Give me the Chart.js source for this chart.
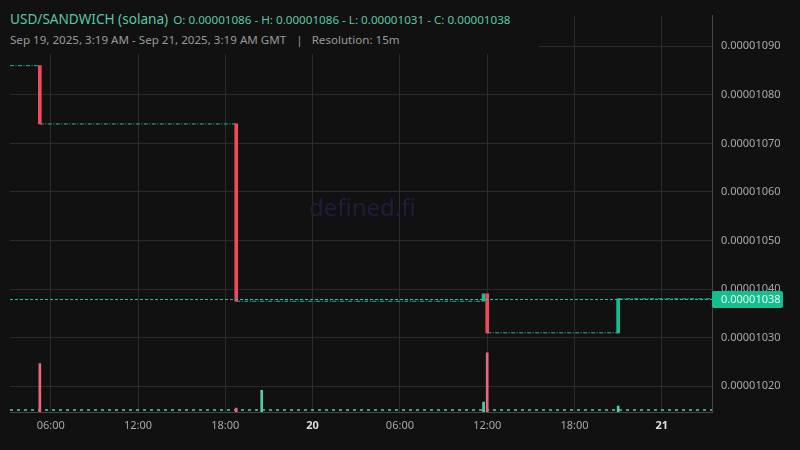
<!DOCTYPE html>
<html>
<head>
    <meta charset="utf-8">
    <title>USD/SANDWICH (solana)</title>
    <script src="https://cdn.jsdelivr.net/npm/chart.js"></script>
    <style>
        body {
            margin: 0;
            background: #111111;
            font-family: "Noto Sans", sans-serif;
        }

        .wrap {
            position: relative;
            width: 800px;
            height: 450px;
        }

        .header {
            position: absolute;
            left: 0;
            top: 0;
            width: 539px;
            height: 54px;
            box-sizing: border-box;
            padding: 9px 0 0 10px;
            background: #111111;
            z-index: 2;
        }

        .title {
            color: #5cc6a6;
            font-size: 13.6px;
            line-height: 20px;
            white-space: nowrap;
        }

        .title .ohlc {
            font-size: 11.65px;
            margin-left: 5px;
        }

        .sub {
            color: #9a9a9a;
            font-size: 11.6px;
            line-height: 20px;
            white-space: nowrap;
        }

        .sub .sep {
            margin: 0 9px 0 10px;
        }

        .watermark {
            position: absolute;
            left: 309px;
            top: 190px;
            font-size: 24px;
            color: #1f1d3b;
            pointer-events: none;
            z-index: 1;
        }

        canvas {
            position: absolute;
            left: 0;
            top: 0;
        }
    </style>
</head>
<body>
    <div class="wrap">
        <div class="header">
            <div class="title">USD/SANDWICH (solana)<span class="ohlc">O: 0.00001086 - H: 0.00001086 - L: 0.00001031 - C: 0.00001038</span></div>
            <div class="sub">Sep 19, 2025, 3:19 AM - Sep 21, 2025, 3:19 AM GMT<span class="sep">|</span>Resolution: 15m</div>
        </div>
        <div class="watermark">defined.fi</div>
        <canvas id="price-chart" width="800" height="450"></canvas>
    </div>

    <script>
        // time is in hours since Sep 19, 2025 00:00 GMT
        const xMin = 3.2;
        const xMax = 51.45;
        const tickHours = [6, 12, 18, 24, 30, 36, 42, 48];
        const tickLabels = ['06:00', '12:00', '18:00', '20', '06:00', '12:00', '18:00', '21'];
        const dayTicks = [24, 48];

        const priceTicks = [0.0000102, 0.0000103, 0.0000104, 0.0000105, 0.0000106, 0.0000107, 0.0000108, 0.0000109];

        // stretches where every 15m candle is flat (open = close)
        const flatFrom = [3.2, 5.25, 18.75, 36.0, 45.0];
        const flatTo = [5.25, 18.75, 35.75, 45.0, 51.45];
        const flatPrice = [0.00001086, 0.00001074, 0.000010375, 0.00001031, 0.00001038];

        // candles that moved
        const candleHour = [5.25, 18.75, 35.75, 36.0, 45.0];
        const candleOpen = [0.00001086, 0.00001074, 0.000010375, 0.0000103905, 0.00001031];
        const candleClose = [0.00001074, 0.000010375, 0.0000103905, 0.00001031, 0.00001038];

        // volume bars
        const volHour = [5.25, 18.75, 20.5, 35.75, 36.0, 45.0];
        const volValue = [4.9, 0.4, 2.2, 1.0, 6.0, 0.6];
        const volUp = [false, false, true, true, false, true];
        const volMax = 40.2;

        const lastClose = 0.00001038;

        const red = '#f04a5c';
        const green = '#14c091';
        const flatColor = '#22b3a0';

        const flatPoints = [];
        flatFrom.forEach((from, i) => {
            flatPoints.push({ x: from, y: flatPrice[i] });
            flatPoints.push({ x: flatTo[i], y: flatPrice[i] });
            flatPoints.push({ x: flatTo[i], y: null });
        });

        const candles = candleHour.map((h, i) => ({ x: h, y: [candleOpen[i], candleClose[i]] }));
        const volumes = volHour.map((h, i) => ({ x: h, y: volValue[i] }));

        const isDay = c => !!(c && c.tick && dayTicks.includes(c.tick.value));

        // dotted last-price line and the price tag on the axis
        const lastPricePlugin = {
            id: 'lastPrice',
            afterDatasetsDraw(chart) {
                const ctx = chart.ctx;
                const area = chart.chartArea;
                const y = Math.round(chart.scales.y.getPixelForValue(lastClose));
                ctx.save();
                ctx.fillStyle = '#19c59a';
                for (let x = Math.round(area.left); x < area.right; x += 5) {
                    ctx.fillRect(x, y, Math.min(3, area.right - x), 1);
                }
                ctx.fillStyle = '#13bf8e';
                ctx.beginPath();
                ctx.roundRect(area.right, y - 8, 71, 17, 2);
                ctx.fill();
                ctx.fillStyle = '#e6f6ef';
                ctx.font = '11px "Noto Sans"';
                ctx.textBaseline = 'middle';
                ctx.fillText(lastClose.toFixed(8), area.right + 9, y + 1);
                ctx.restore();
            }
        };

        const ctx = document.getElementById('price-chart').getContext('2d');
        const chart = new Chart(ctx, {
            type: 'bar',
            data: {
                datasets: [
                    {
                        type: 'line',
                        label: 'flat',
                        data: flatPoints,
                        yAxisID: 'y',
                        borderColor: flatColor,
                        borderWidth: 1,
                        borderDash: [4, 1.5, 1, 1.5],
                        pointRadius: 0,
                        spanGaps: false,
                        order: 3
                    },
                    {
                        type: 'line',
                        label: 'small volume',
                        data: [{ x: xMin, y: 0.2 }, { x: xMax, y: 0.2 }],
                        yAxisID: 'y2',
                        borderColor: '#5cc9a7',
                        borderWidth: 1.5,
                        borderDash: [3, 4],
                        pointRadius: 0,
                        order: 4
                    },
                    {
                        label: 'candles',
                        data: candles,
                        yAxisID: 'y',
                        grouped: false,
                        barThickness: 3,
                        backgroundColor: c => (c.raw && c.raw.y[0] > c.raw.y[1]) ? red : green,
                        order: 1
                    },
                    {
                        label: 'volume',
                        data: volumes,
                        yAxisID: 'y2',
                        grouped: false,
                        barThickness: 2,
                        backgroundColor: c => volUp[c.dataIndex] ? '#5cc9a7' : '#e8687c',
                        order: 2
                    }
                ]
            },
            options: {
                responsive: false,
                animation: false,
                layout: {
                    padding: { left: 10, top: 10, right: 0, bottom: 0 }
                },
                plugins: {
                    legend: { display: false },
                    tooltip: { enabled: false }
                },
                scales: {
                    x: {
                        type: 'linear',
                        min: xMin,
                        max: xMax,
                        offset: false,
                        afterBuildTicks: scale => {
                            scale.ticks = tickHours.map(v => ({ value: v }));
                        },
                        afterFit: scale => {
                            scale.height = 38;
                        },
                        grid: {
                            offset: false,
                            color: '#2b2b2b',
                            drawTicks: false
                        },
                        border: {
                            color: '#474747'
                        },
                        ticks: {
                            padding: 7,
                            maxRotation: 0,
                            autoSkip: false,
                            callback: (value, index) => tickLabels[index],
                            color: c => isDay(c) ? '#dddddd' : '#a8a8a8',
                            font: c => ({
                                family: '"Noto Sans"',
                                size: 11,
                                weight: isDay(c) ? 'bold' : 'normal'
                            })
                        }
                    },
                    y: {
                        position: 'right',
                        min: 0.000010147,
                        max: 0.000010963,
                        afterBuildTicks: scale => {
                            scale.ticks = priceTicks.map(v => ({ value: v }));
                        },
                        afterFit: scale => {
                            scale.width = 88;
                        },
                        grid: {
                            color: '#2b2b2b',
                            drawTicks: false
                        },
                        border: {
                            color: '#474747'
                        },
                        ticks: {
                            padding: 9,
                            color: '#a8a8a8',
                            font: { family: '"Noto Sans"', size: 11 },
                            callback: value => value.toFixed(8)
                        }
                    },
                    y2: {
                        display: false,
                        min: 0,
                        max: volMax
                    }
                }
            },
            plugins: [lastPricePlugin]
        });
    </script>
</body>
</html>
